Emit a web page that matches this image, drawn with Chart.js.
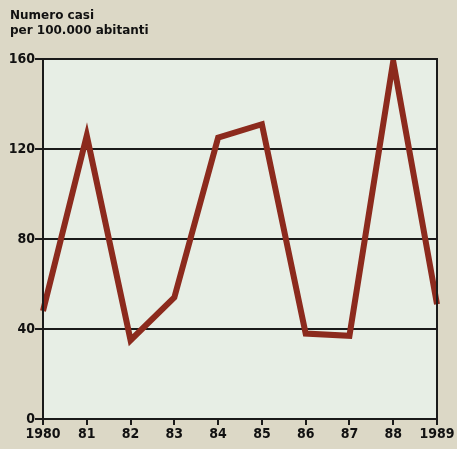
<!DOCTYPE html>
<html lang="it">
<head>
    <meta charset="UTF-8">
    <title>Numero casi per 100.000 abitanti</title>
    <script src="https://cdn.jsdelivr.net/npm/chart.js"></script>
    <style>
        html, body {
            margin: 0;
            padding: 0;
            background-color: #dcd8c6;
        }

        .chart-box {
            width: 457px;
            height: 449px;
        }
    </style>
</head>
<body>
    <div class="chart-box">
        <canvas id="casiChart"></canvas>
    </div>

    <script>
        // Data
        const years = ['1980', '81', '82', '83', '84', '85', '86', '87', '88', '1989'];
        const casi = [48, 126, 35, 54, 125, 131, 38, 37, 159, 51];
        const titleLines = ['Numero casi', 'per 100.000 abitanti'];

        const tickFont = { family: "'DejaVu Sans Condensed', 'DejaVu Sans'", size: 14, weight: 'bold' };

        // paints the pale plot area and its frame
        const plotFrame = {
            id: 'plotFrame',
            beforeDraw(chart) {
                const { ctx, chartArea: a } = chart;
                ctx.save();
                ctx.fillStyle = '#dcd8c6';
                ctx.fillRect(0, 0, chart.width, chart.height);
                ctx.fillStyle = '#e7eee5';
                ctx.fillRect(a.left, a.top, a.right - a.left, a.bottom - a.top);
                ctx.restore();
            },
            afterDatasetsDraw(chart) {
                const { ctx, chartArea: a } = chart;
                ctx.save();
                ctx.strokeStyle = '#1a1a1a';
                ctx.lineWidth = 2;
                ctx.strokeRect(a.left, a.top, a.right - a.left, a.bottom - a.top);
                ctx.restore();
            }
        };

        new Chart(document.getElementById('casiChart'), {
            type: 'line',
            data: {
                labels: years,
                datasets: [{
                    data: casi,
                    borderColor: '#8c2a1d',
                    borderWidth: 6,
                    pointRadius: 0,
                    tension: 0,
                    borderJoinStyle: 'miter',
                    fill: false
                }]
            },
            options: {
                responsive: true,
                maintainAspectRatio: false,
                animation: false,
                layout: {
                    padding: { left: 10, right: 20, top: 0, bottom: 0 }
                },
                plugins: {
                    legend: { display: false },
                    tooltip: { enabled: false },
                    title: {
                        display: true,
                        text: titleLines,
                        align: 'start',
                        color: '#111',
                        font: { family: 'DejaVu Sans', size: 12, weight: 'bold', lineHeight: 1.25 },
                        padding: { top: 8, bottom: 21 }
                    }
                },
                scales: {
                    x: {
                        offset: false,
                        grid: {
                            drawOnChartArea: false,
                            drawTicks: true,
                            tickLength: 6,
                            color: '#1a1a1a',
                            lineWidth: 2
                        },
                        border: { display: false },
                        ticks: {
                            color: '#111',
                            font: tickFont,
                            padding: 1,
                            maxRotation: 0,
                            autoSkip: false
                        },
                        afterFit(scale) { scale.height = 30; }
                    },
                    y: {
                        min: 0,
                        max: 160,
                        grid: {
                            color: '#1a1a1a',
                            lineWidth: 2,
                            tickLength: 8
                        },
                        border: { display: false },
                        ticks: {
                            stepSize: 40,
                            color: '#111',
                            font: tickFont,
                            padding: 0
                        },
                        afterFit(scale) { scale.width = 33; }
                    }
                }
            },
            plugins: [plotFrame]
        });
    </script>
</body>
</html>
